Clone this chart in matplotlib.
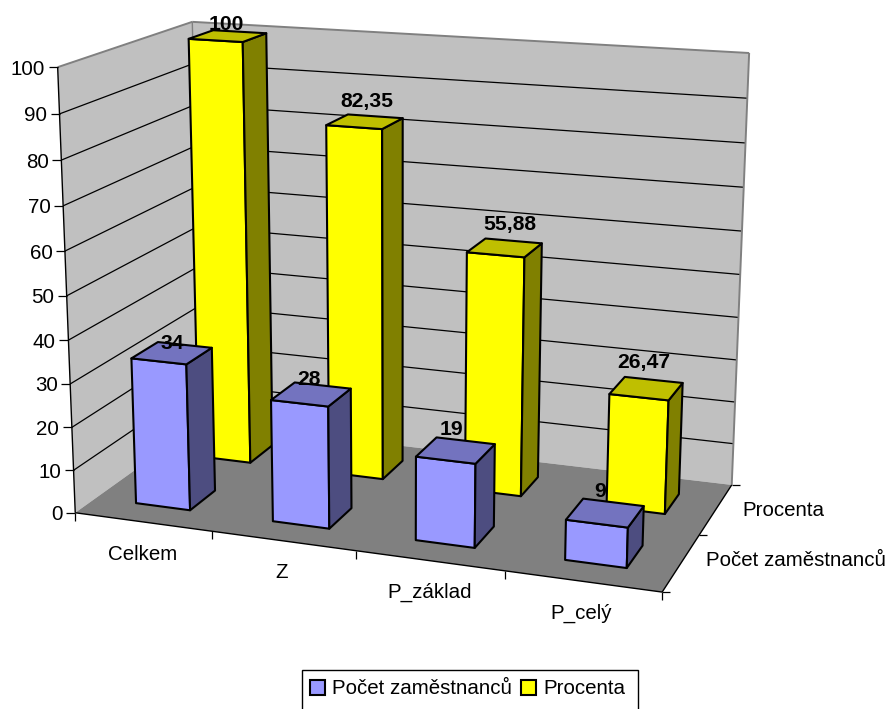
import matplotlib
matplotlib.use("Agg")
import matplotlib.pyplot as plt
from matplotlib.patches import Patch, Polygon, Rectangle
import numpy as np

plt.rcParams["font.family"] = ["Liberation Sans", "DejaVu Sans"]

categories = ["Celkem", "Z", "P_základ", "P_celý"]
series_names = ["Počet zaměstnanců", "Procenta"]
pocet = [34, 28, 19, 9]
procenta = [100, 82.35, 55.88, 26.47]
value_ticks = list(range(0, 101, 10))

# pixel position of the box corners, (category, series, value) -> screen
BOX_CORNERS = [
    ((0, 0, 0), (76, 513)),
    ((0, 0, 100), (57, 67)),
    ((0, 2, 100), (193, 22)),
    ((0, 2, 0), (201, 422)),
    ((4, 2, 100), (749, 53)),
    ((4, 2, 0), (732, 485)),
    ((4, 0, 0), (662, 592)),
]
GAP = 0.3
LABEL_SIZE = 14.8
BLUE = ("#9999FF", "#7373BF", "#4D4D80")
YELLOW = ("#FFFF00", "#BFBF00", "#808000")
# label shift from the top of the bar, pixels
LABEL_SHIFT = {0: [(0, -10), (-2, -15), (-4, -21), (-5, -21)],
               1: [(-1, -12), (2, -20), (5, -23), (-3, -26)]}


def fit_camera(corners):
    rows = []
    for (x, y, z), (u, v) in corners:
        p = [x / 4, y / 2, z / 100, 1]
        u, v = u / 1000, v / 1000
        rows.append(p + [0, 0, 0, 0] + [-u * c for c in p])
        rows.append([0, 0, 0, 0] + p + [-v * c for c in p])
    _, _, vt = np.linalg.svd(np.array(rows))
    return vt[-1].reshape(3, 4)


CAM = fit_camera(BOX_CORNERS)


def proj(x, y, z):
    h = CAM @ np.array([x / 4, y / 2, z / 100, 1])
    return h[0] / h[2] * 1000, h[1] / h[2] * 1000


def face(ax, pts, color, lw=1.5, edge="black", zorder=3):
    ax.add_patch(Polygon([proj(*p) for p in pts], closed=True, facecolor=color,
                         edgecolor=edge, lw=lw, joinstyle="round", zorder=zorder))


def seg(ax, a, b, color="black", lw=0.9, zorder=2):
    ax.plot(*zip(a, b), color=color, lw=lw, zorder=zorder, solid_capstyle="butt")


def bar(ax, i, s, value, colors):
    x0, x1 = i + GAP, i + 1 - GAP
    y0, y1 = s + GAP, s + 1 - GAP
    front, top, side = colors
    face(ax, [(x0, y0, 0), (x1, y0, 0), (x1, y0, value), (x0, y0, value)], front)
    face(ax, [(x1, y0, 0), (x1, y1, 0), (x1, y1, value), (x1, y0, value)], side)
    face(ax, [(x0, y0, value), (x1, y0, value), (x1, y1, value), (x0, y1, value)], top)


fig = plt.figure(figsize=(8.93, 7.09), dpi=100)
ax = fig.add_axes([0, 0, 1, 1])
ax.set_xlim(0, 893)
ax.set_ylim(709, 0)
ax.axis("off")

# walls and floor
face(ax, [(0, 0, 0), (0, 2, 0), (0, 2, 100), (0, 0, 100)], "#C0C0C0", lw=0, edge="none", zorder=1)
face(ax, [(0, 2, 0), (4, 2, 0), (4, 2, 100), (0, 2, 100)], "#C0C0C0", lw=0, edge="none", zorder=1)
face(ax, [(0, 0, 0), (4, 0, 0), (4, 2, 0), (0, 2, 0)], "#808080", lw=0, edge="none", zorder=1)

for v in value_ticks[1:-1]:
    seg(ax, proj(0, 0, v), proj(0, 2, v))
    seg(ax, proj(0, 2, v), proj(4, 2, v))
seg(ax, proj(0, 0, 100), proj(0, 2, 100), color="#808080", lw=1.4)
seg(ax, proj(0, 2, 100), proj(4, 2, 100), color="#808080", lw=1.4)
seg(ax, proj(4, 2, 100), proj(4, 2, 0), color="#808080", lw=1.4)
seg(ax, proj(0, 2, 100), proj(0, 2, 60), color="#808080", lw=1.0)

# axis lines, ticks, tick labels
seg(ax, proj(0, 0, 0), proj(0, 0, 100), lw=1.0)
seg(ax, proj(0, 0, 0), proj(4, 0, 0), lw=1.0)
seg(ax, proj(4, 0, 0), proj(4, 2, 0), lw=1.0)
for v in value_ticks:
    u, w = proj(0, 0, v)
    seg(ax, (u - 9, w), (u, w), lw=0.9)
    ax.text(u - 12.5, w, str(v), ha="right", va="center_baseline", fontsize=LABEL_SIZE, color="black")
for i in range(len(categories) + 1):
    u, w = proj(i, 0, 0)
    seg(ax, (u, w), (u, w + 8), lw=0.9)
for s in range(len(series_names) + 1):
    u, w = proj(4, s, 0)
    seg(ax, (u, w), (u + 8, w), lw=0.9)

cat_pos = [(143, 555), (282, 572), (430, 592), (581, 613)]
for name, (u, w) in zip(categories, cat_pos):
    ax.text(u, w, name, ha="center", va="center", fontsize=LABEL_SIZE, color="black")
ax.text(706, 561, series_names[0], ha="left", va="center", fontsize=LABEL_SIZE, color="black")
ax.text(742, 510, series_names[1], ha="left", va="center", fontsize=LABEL_SIZE, color="black")

# back row first so the front row covers it
for s, vals, colors in [(1, procenta, YELLOW), (0, pocet, BLUE)]:
    for i, v in enumerate(vals):
        bar(ax, i, s, v, colors)

for s, vals in enumerate([pocet, procenta]):
    for i, v in enumerate(vals):
        u, w = proj(i + 0.5, s + 0.5, v)
        dx, dy = LABEL_SHIFT[s][i]
        ax.text(u + dx, w + dy, f"{v:g}".replace(".", ","), ha="center", va="center",
                fontsize=15.2, fontweight="bold", color="black", zorder=6)

# the legend frame runs off the bottom of the picture, so it is drawn apart
ax.add_patch(Rectangle((302, 670), 336, 44, facecolor="white", edgecolor="black", lw=1.0, zorder=4))
handles = [Patch(facecolor=BLUE[0], edgecolor="black", lw=1.5),
           Patch(facecolor=YELLOW[0], edgecolor="black", lw=1.5)]
leg = ax.legend(handles, series_names, loc="center", bbox_to_anchor=(467.5 / 893, 1 - 689 / 709),
                ncol=2, fontsize=LABEL_SIZE, frameon=False, borderpad=0, borderaxespad=0,
                handlelength=0.73, handleheight=0.73, handletextpad=0.34, columnspacing=0.44)
leg.set_zorder(5)

fig.savefig("out.png", dpi=100)
